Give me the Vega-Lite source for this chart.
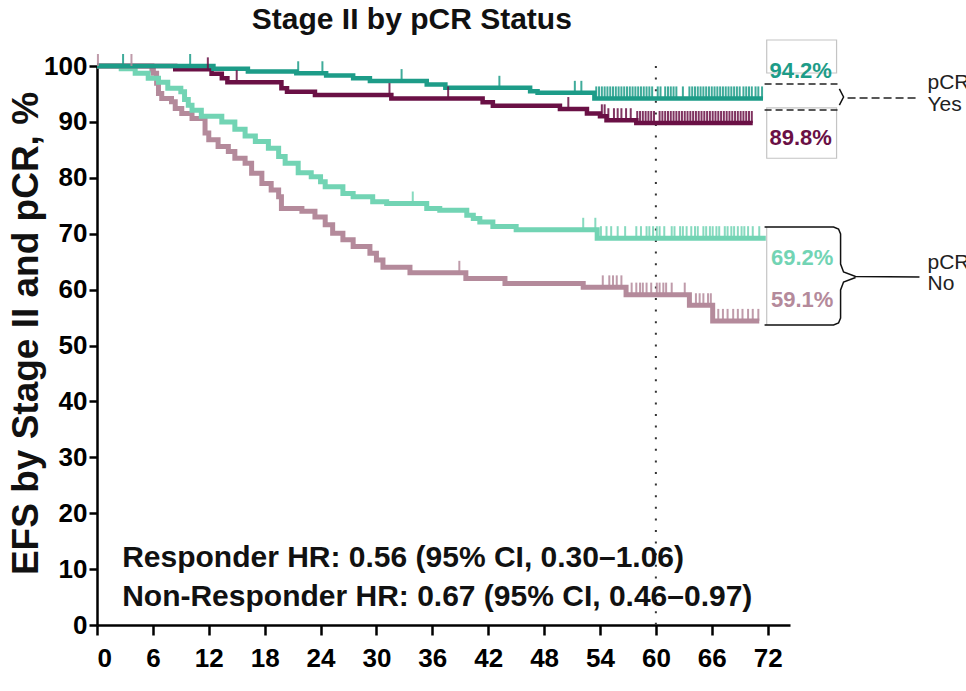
{
  "$schema": "https://vega.github.io/schema/vega-lite/v6.json",
  "width": 693,
  "height": 559,
  "autosize": {"type": "none"},
  "padding": {"left": 97, "top": 66, "right": 176, "bottom": 66},
  "background": "white",
  "datasets": {
    "curves": [
      {"series": "pCR Yes, arm A", "month": 0, "efs": 100},
      {"series": "pCR Yes, arm A", "month": 12.5, "efs": 99.5},
      {"series": "pCR Yes, arm A", "month": 16.2, "efs": 99.0},
      {"series": "pCR Yes, arm A", "month": 21.4, "efs": 98.7},
      {"series": "pCR Yes, arm A", "month": 24.6, "efs": 98.3},
      {"series": "pCR Yes, arm A", "month": 27.5, "efs": 97.8},
      {"series": "pCR Yes, arm A", "month": 29.3, "efs": 97.3},
      {"series": "pCR Yes, arm A", "month": 35.4, "efs": 96.7},
      {"series": "pCR Yes, arm A", "month": 37.4, "efs": 96.1},
      {"series": "pCR Yes, arm A", "month": 46.5, "efs": 95.5},
      {"series": "pCR Yes, arm A", "month": 47.3, "efs": 95.2},
      {"series": "pCR Yes, arm A", "month": 53.4, "efs": 94.2},
      {"series": "pCR Yes, arm A", "month": 71.5, "efs": 94.2},

      {"series": "pCR Yes, arm B", "month": 0, "efs": 100},
      {"series": "pCR Yes, arm B", "month": 8.4, "efs": 99.4},
      {"series": "pCR Yes, arm B", "month": 12.3, "efs": 98.6},
      {"series": "pCR Yes, arm B", "month": 13.4, "efs": 97.8},
      {"series": "pCR Yes, arm B", "month": 14.0, "efs": 97.1},
      {"series": "pCR Yes, arm B", "month": 19.8, "efs": 96.0},
      {"series": "pCR Yes, arm B", "month": 20.4, "efs": 95.4},
      {"series": "pCR Yes, arm B", "month": 23.4, "efs": 94.8},
      {"series": "pCR Yes, arm B", "month": 31.6, "efs": 94.2},
      {"series": "pCR Yes, arm B", "month": 41.4, "efs": 93.5},
      {"series": "pCR Yes, arm B", "month": 42.5, "efs": 92.9},
      {"series": "pCR Yes, arm B", "month": 49.7, "efs": 92.3},
      {"series": "pCR Yes, arm B", "month": 52.6, "efs": 91.5},
      {"series": "pCR Yes, arm B", "month": 54.0, "efs": 91.0},
      {"series": "pCR Yes, arm B", "month": 54.7, "efs": 90.3},
      {"series": "pCR Yes, arm B", "month": 57.9, "efs": 89.8},
      {"series": "pCR Yes, arm B", "month": 70.4, "efs": 89.8},

      {"series": "pCR No, arm A", "month": 0, "efs": 100},
      {"series": "pCR No, arm A", "month": 2.6, "efs": 99.5},
      {"series": "pCR No, arm A", "month": 4.1, "efs": 98.7},
      {"series": "pCR No, arm A", "month": 5.5, "efs": 97.8},
      {"series": "pCR No, arm A", "month": 6.6, "efs": 97.1},
      {"series": "pCR No, arm A", "month": 7.6, "efs": 96.0},
      {"series": "pCR No, arm A", "month": 9.0, "efs": 95.4},
      {"series": "pCR No, arm A", "month": 9.4, "efs": 94.0},
      {"series": "pCR No, arm A", "month": 9.8, "efs": 93.0},
      {"series": "pCR No, arm A", "month": 10.2, "efs": 92.1},
      {"series": "pCR No, arm A", "month": 11.2, "efs": 91.0},
      {"series": "pCR No, arm A", "month": 13.4, "efs": 90.0},
      {"series": "pCR No, arm A", "month": 14.8, "efs": 88.7},
      {"series": "pCR No, arm A", "month": 15.9, "efs": 87.5},
      {"series": "pCR No, arm A", "month": 17.0, "efs": 86.5},
      {"series": "pCR No, arm A", "month": 18.4, "efs": 85.3},
      {"series": "pCR No, arm A", "month": 19.5, "efs": 83.8},
      {"series": "pCR No, arm A", "month": 20.2, "efs": 82.6},
      {"series": "pCR No, arm A", "month": 21.6, "efs": 80.9},
      {"series": "pCR No, arm A", "month": 23.0, "efs": 80.2},
      {"series": "pCR No, arm A", "month": 24.0, "efs": 79.3},
      {"series": "pCR No, arm A", "month": 24.5, "efs": 78.4},
      {"series": "pCR No, arm A", "month": 26.4, "efs": 77.2},
      {"series": "pCR No, arm A", "month": 27.5, "efs": 76.6},
      {"series": "pCR No, arm A", "month": 29.6, "efs": 75.7},
      {"series": "pCR No, arm A", "month": 31.1, "efs": 75.4},
      {"series": "pCR No, arm A", "month": 35.4, "efs": 74.5},
      {"series": "pCR No, arm A", "month": 36.8, "efs": 74.2},
      {"series": "pCR No, arm A", "month": 39.7, "efs": 73.3},
      {"series": "pCR No, arm A", "month": 40.4, "efs": 72.7},
      {"series": "pCR No, arm A", "month": 41.1, "efs": 72.1},
      {"series": "pCR No, arm A", "month": 42.5, "efs": 71.3},
      {"series": "pCR No, arm A", "month": 45.0, "efs": 70.7},
      {"series": "pCR No, arm A", "month": 53.7, "efs": 69.2},
      {"series": "pCR No, arm A", "month": 71.8, "efs": 69.2},

      {"series": "pCR No, arm B", "month": 0, "efs": 100},
      {"series": "pCR No, arm B", "month": 5.9, "efs": 99.3},
      {"series": "pCR No, arm B", "month": 6.05, "efs": 98.7},
      {"series": "pCR No, arm B", "month": 6.4, "efs": 96.9},
      {"series": "pCR No, arm B", "month": 6.6, "efs": 95.1},
      {"series": "pCR No, arm B", "month": 6.95, "efs": 94.2},
      {"series": "pCR No, arm B", "month": 8.0, "efs": 93.6},
      {"series": "pCR No, arm B", "month": 8.4, "efs": 92.4},
      {"series": "pCR No, arm B", "month": 9.1, "efs": 91.5},
      {"series": "pCR No, arm B", "month": 10.2, "efs": 90.6},
      {"series": "pCR No, arm B", "month": 11.6, "efs": 88.0},
      {"series": "pCR No, arm B", "month": 12.0, "efs": 86.8},
      {"series": "pCR No, arm B", "month": 13.0, "efs": 85.6},
      {"series": "pCR No, arm B", "month": 14.1, "efs": 84.7},
      {"series": "pCR No, arm B", "month": 14.8, "efs": 83.5},
      {"series": "pCR No, arm B", "month": 15.9, "efs": 82.6},
      {"series": "pCR No, arm B", "month": 16.6, "efs": 80.8},
      {"series": "pCR No, arm B", "month": 17.7, "efs": 79.0},
      {"series": "pCR No, arm B", "month": 18.7, "efs": 77.8},
      {"series": "pCR No, arm B", "month": 19.5, "efs": 76.6},
      {"series": "pCR No, arm B", "month": 19.8, "efs": 74.5},
      {"series": "pCR No, arm B", "month": 22.0, "efs": 74.0},
      {"series": "pCR No, arm B", "month": 23.4, "efs": 73.0},
      {"series": "pCR No, arm B", "month": 24.5, "efs": 71.6},
      {"series": "pCR No, arm B", "month": 25.3, "efs": 70.1},
      {"series": "pCR No, arm B", "month": 26.4, "efs": 68.9},
      {"series": "pCR No, arm B", "month": 27.5, "efs": 67.7},
      {"series": "pCR No, arm B", "month": 29.3, "efs": 66.5},
      {"series": "pCR No, arm B", "month": 30.0, "efs": 65.3},
      {"series": "pCR No, arm B", "month": 30.7, "efs": 64.0},
      {"series": "pCR No, arm B", "month": 33.6, "efs": 63.0},
      {"series": "pCR No, arm B", "month": 39.6, "efs": 62.0},
      {"series": "pCR No, arm B", "month": 43.8, "efs": 61.1},
      {"series": "pCR No, arm B", "month": 52.2, "efs": 60.4},
      {"series": "pCR No, arm B", "month": 56.8, "efs": 59.1},
      {"series": "pCR No, arm B", "month": 63.6, "efs": 57.2},
      {"series": "pCR No, arm B", "month": 66.1, "efs": 54.4},
      {"series": "pCR No, arm B", "month": 71.1, "efs": 54.4}
    ],
    "censored": [
      {"series": "pCR Yes, arm A", "month": 2.8, "efs": 100},
      {"series": "pCR Yes, arm A", "month": 10.0, "efs": 100},
      {"series": "pCR Yes, arm A", "month": 21.6, "efs": 98.7},
      {"series": "pCR Yes, arm A", "month": 24.2, "efs": 98.7},
      {"series": "pCR Yes, arm A", "month": 32.7, "efs": 97.3},
      {"series": "pCR Yes, arm A", "month": 43.2, "efs": 96.1},
      {"series": "pCR Yes, arm A", "month": 51.3, "efs": 95.2},
      {"series": "pCR Yes, arm A", "month": 52.0, "efs": 95.2},
      {"series": "pCR Yes, arm A", "month": 53.6, "efs": 94.2},
      {"series": "pCR Yes, arm A", "month": 53.9, "efs": 94.2},
      {"series": "pCR Yes, arm A", "month": 54.2, "efs": 94.2},
      {"series": "pCR Yes, arm A", "month": 54.5, "efs": 94.2},
      {"series": "pCR Yes, arm A", "month": 54.8, "efs": 94.2},
      {"series": "pCR Yes, arm A", "month": 55.1, "efs": 94.2},
      {"series": "pCR Yes, arm A", "month": 55.4, "efs": 94.2},
      {"series": "pCR Yes, arm A", "month": 55.7, "efs": 94.2},
      {"series": "pCR Yes, arm A", "month": 56.0, "efs": 94.2},
      {"series": "pCR Yes, arm A", "month": 56.3, "efs": 94.2},
      {"series": "pCR Yes, arm A", "month": 56.6, "efs": 94.2},
      {"series": "pCR Yes, arm A", "month": 56.9, "efs": 94.2},
      {"series": "pCR Yes, arm A", "month": 57.2, "efs": 94.2},
      {"series": "pCR Yes, arm A", "month": 57.5, "efs": 94.2},
      {"series": "pCR Yes, arm A", "month": 57.8, "efs": 94.2},
      {"series": "pCR Yes, arm A", "month": 58.1, "efs": 94.2},
      {"series": "pCR Yes, arm A", "month": 58.4, "efs": 94.2},
      {"series": "pCR Yes, arm A", "month": 58.7, "efs": 94.2},
      {"series": "pCR Yes, arm A", "month": 59.0, "efs": 94.2},
      {"series": "pCR Yes, arm A", "month": 59.3, "efs": 94.2},
      {"series": "pCR Yes, arm A", "month": 59.6, "efs": 94.2},
      {"series": "pCR Yes, arm A", "month": 60.2, "efs": 94.2},
      {"series": "pCR Yes, arm A", "month": 60.5, "efs": 94.2},
      {"series": "pCR Yes, arm A", "month": 61.0, "efs": 94.2},
      {"series": "pCR Yes, arm A", "month": 61.3, "efs": 94.2},
      {"series": "pCR Yes, arm A", "month": 61.6, "efs": 94.2},
      {"series": "pCR Yes, arm A", "month": 61.9, "efs": 94.2},
      {"series": "pCR Yes, arm A", "month": 62.2, "efs": 94.2},
      {"series": "pCR Yes, arm A", "month": 62.9, "efs": 94.2},
      {"series": "pCR Yes, arm A", "month": 63.6, "efs": 94.2},
      {"series": "pCR Yes, arm A", "month": 63.9, "efs": 94.2},
      {"series": "pCR Yes, arm A", "month": 64.2, "efs": 94.2},
      {"series": "pCR Yes, arm A", "month": 64.5, "efs": 94.2},
      {"series": "pCR Yes, arm A", "month": 64.8, "efs": 94.2},
      {"series": "pCR Yes, arm A", "month": 65.1, "efs": 94.2},
      {"series": "pCR Yes, arm A", "month": 65.4, "efs": 94.2},
      {"series": "pCR Yes, arm A", "month": 65.7, "efs": 94.2},
      {"series": "pCR Yes, arm A", "month": 66.0, "efs": 94.2},
      {"series": "pCR Yes, arm A", "month": 66.3, "efs": 94.2},
      {"series": "pCR Yes, arm A", "month": 66.6, "efs": 94.2},
      {"series": "pCR Yes, arm A", "month": 66.9, "efs": 94.2},
      {"series": "pCR Yes, arm A", "month": 67.2, "efs": 94.2},
      {"series": "pCR Yes, arm A", "month": 67.5, "efs": 94.2},
      {"series": "pCR Yes, arm A", "month": 67.8, "efs": 94.2},
      {"series": "pCR Yes, arm A", "month": 68.1, "efs": 94.2},
      {"series": "pCR Yes, arm A", "month": 68.4, "efs": 94.2},
      {"series": "pCR Yes, arm A", "month": 68.7, "efs": 94.2},
      {"series": "pCR Yes, arm A", "month": 69.0, "efs": 94.2},
      {"series": "pCR Yes, arm A", "month": 69.4, "efs": 94.2},
      {"series": "pCR Yes, arm A", "month": 69.7, "efs": 94.2},
      {"series": "pCR Yes, arm A", "month": 70.0, "efs": 94.2},
      {"series": "pCR Yes, arm A", "month": 70.3, "efs": 94.2},
      {"series": "pCR Yes, arm A", "month": 70.7, "efs": 94.2},
      {"series": "pCR Yes, arm A", "month": 71.0, "efs": 94.2},
      {"series": "pCR Yes, arm A", "month": 71.4, "efs": 94.2},

      {"series": "pCR Yes, arm B", "month": 11.9, "efs": 99.4},
      {"series": "pCR Yes, arm B", "month": 15.0, "efs": 97.1},
      {"series": "pCR Yes, arm B", "month": 31.4, "efs": 94.8},
      {"series": "pCR Yes, arm B", "month": 37.7, "efs": 94.2},
      {"series": "pCR Yes, arm B", "month": 50.6, "efs": 92.3},
      {"series": "pCR Yes, arm B", "month": 54.2, "efs": 91.0},
      {"series": "pCR Yes, arm B", "month": 54.5, "efs": 91.0},
      {"series": "pCR Yes, arm B", "month": 54.9, "efs": 90.3},
      {"series": "pCR Yes, arm B", "month": 55.5, "efs": 90.3},
      {"series": "pCR Yes, arm B", "month": 55.9, "efs": 90.3},
      {"series": "pCR Yes, arm B", "month": 56.3, "efs": 90.3},
      {"series": "pCR Yes, arm B", "month": 56.8, "efs": 90.3},
      {"series": "pCR Yes, arm B", "month": 57.3, "efs": 90.3},
      {"series": "pCR Yes, arm B", "month": 58.0, "efs": 89.8},
      {"series": "pCR Yes, arm B", "month": 58.3, "efs": 89.8},
      {"series": "pCR Yes, arm B", "month": 58.6, "efs": 89.8},
      {"series": "pCR Yes, arm B", "month": 58.9, "efs": 89.8},
      {"series": "pCR Yes, arm B", "month": 59.2, "efs": 89.8},
      {"series": "pCR Yes, arm B", "month": 59.5, "efs": 89.8},
      {"series": "pCR Yes, arm B", "month": 59.8, "efs": 89.8},
      {"series": "pCR Yes, arm B", "month": 60.4, "efs": 89.8},
      {"series": "pCR Yes, arm B", "month": 60.7, "efs": 89.8},
      {"series": "pCR Yes, arm B", "month": 61.0, "efs": 89.8},
      {"series": "pCR Yes, arm B", "month": 61.3, "efs": 89.8},
      {"series": "pCR Yes, arm B", "month": 61.6, "efs": 89.8},
      {"series": "pCR Yes, arm B", "month": 61.9, "efs": 89.8},
      {"series": "pCR Yes, arm B", "month": 62.2, "efs": 89.8},
      {"series": "pCR Yes, arm B", "month": 62.5, "efs": 89.8},
      {"series": "pCR Yes, arm B", "month": 62.8, "efs": 89.8},
      {"series": "pCR Yes, arm B", "month": 63.1, "efs": 89.8},
      {"series": "pCR Yes, arm B", "month": 63.4, "efs": 89.8},
      {"series": "pCR Yes, arm B", "month": 63.7, "efs": 89.8},
      {"series": "pCR Yes, arm B", "month": 64.0, "efs": 89.8},
      {"series": "pCR Yes, arm B", "month": 64.3, "efs": 89.8},
      {"series": "pCR Yes, arm B", "month": 64.6, "efs": 89.8},
      {"series": "pCR Yes, arm B", "month": 64.9, "efs": 89.8},
      {"series": "pCR Yes, arm B", "month": 65.2, "efs": 89.8},
      {"series": "pCR Yes, arm B", "month": 65.5, "efs": 89.8},
      {"series": "pCR Yes, arm B", "month": 65.8, "efs": 89.8},
      {"series": "pCR Yes, arm B", "month": 66.1, "efs": 89.8},
      {"series": "pCR Yes, arm B", "month": 66.4, "efs": 89.8},
      {"series": "pCR Yes, arm B", "month": 66.7, "efs": 89.8},
      {"series": "pCR Yes, arm B", "month": 67.0, "efs": 89.8},
      {"series": "pCR Yes, arm B", "month": 67.3, "efs": 89.8},
      {"series": "pCR Yes, arm B", "month": 67.6, "efs": 89.8},
      {"series": "pCR Yes, arm B", "month": 67.9, "efs": 89.8},
      {"series": "pCR Yes, arm B", "month": 68.2, "efs": 89.8},
      {"series": "pCR Yes, arm B", "month": 68.5, "efs": 89.8},
      {"series": "pCR Yes, arm B", "month": 68.8, "efs": 89.8},
      {"series": "pCR Yes, arm B", "month": 69.1, "efs": 89.8},
      {"series": "pCR Yes, arm B", "month": 69.4, "efs": 89.8},
      {"series": "pCR Yes, arm B", "month": 69.7, "efs": 89.8},
      {"series": "pCR Yes, arm B", "month": 70.0, "efs": 89.8},
      {"series": "pCR Yes, arm B", "month": 70.3, "efs": 89.8},

      {"series": "pCR No, arm A", "month": 33.9, "efs": 75.4},
      {"series": "pCR No, arm A", "month": 52.2, "efs": 70.7},
      {"series": "pCR No, arm A", "month": 53.5, "efs": 70.7},
      {"series": "pCR No, arm A", "month": 54.1, "efs": 69.2},
      {"series": "pCR No, arm A", "month": 54.7, "efs": 69.2},
      {"series": "pCR No, arm A", "month": 55.2, "efs": 69.2},
      {"series": "pCR No, arm A", "month": 55.9, "efs": 69.2},
      {"series": "pCR No, arm A", "month": 56.7, "efs": 69.2},
      {"series": "pCR No, arm A", "month": 57.9, "efs": 69.2},
      {"series": "pCR No, arm A", "month": 58.4, "efs": 69.2},
      {"series": "pCR No, arm A", "month": 59.0, "efs": 69.2},
      {"series": "pCR No, arm A", "month": 59.3, "efs": 69.2},
      {"series": "pCR No, arm A", "month": 59.7, "efs": 69.2},
      {"series": "pCR No, arm A", "month": 60.1, "efs": 69.2},
      {"series": "pCR No, arm A", "month": 60.4, "efs": 69.2},
      {"series": "pCR No, arm A", "month": 60.9, "efs": 69.2},
      {"series": "pCR No, arm A", "month": 61.7, "efs": 69.2},
      {"series": "pCR No, arm A", "month": 62.0, "efs": 69.2},
      {"series": "pCR No, arm A", "month": 62.6, "efs": 69.2},
      {"series": "pCR No, arm A", "month": 62.9, "efs": 69.2},
      {"series": "pCR No, arm A", "month": 63.3, "efs": 69.2},
      {"series": "pCR No, arm A", "month": 63.8, "efs": 69.2},
      {"series": "pCR No, arm A", "month": 64.2, "efs": 69.2},
      {"series": "pCR No, arm A", "month": 64.5, "efs": 69.2},
      {"series": "pCR No, arm A", "month": 65.1, "efs": 69.2},
      {"series": "pCR No, arm A", "month": 65.4, "efs": 69.2},
      {"series": "pCR No, arm A", "month": 65.8, "efs": 69.2},
      {"series": "pCR No, arm A", "month": 66.1, "efs": 69.2},
      {"series": "pCR No, arm A", "month": 66.5, "efs": 69.2},
      {"series": "pCR No, arm A", "month": 66.8, "efs": 69.2},
      {"series": "pCR No, arm A", "month": 67.4, "efs": 69.2},
      {"series": "pCR No, arm A", "month": 67.7, "efs": 69.2},
      {"series": "pCR No, arm A", "month": 68.1, "efs": 69.2},
      {"series": "pCR No, arm A", "month": 68.4, "efs": 69.2},
      {"series": "pCR No, arm A", "month": 68.8, "efs": 69.2},
      {"series": "pCR No, arm A", "month": 69.2, "efs": 69.2},
      {"series": "pCR No, arm A", "month": 69.5, "efs": 69.2},
      {"series": "pCR No, arm A", "month": 69.9, "efs": 69.2},
      {"series": "pCR No, arm A", "month": 70.4, "efs": 69.2},
      {"series": "pCR No, arm A", "month": 71.1, "efs": 69.2},

      {"series": "pCR No, arm B", "month": 0.1, "efs": 100},
      {"series": "pCR No, arm B", "month": 3.7, "efs": 100},
      {"series": "pCR No, arm B", "month": 38.9, "efs": 63.0},
      {"series": "pCR No, arm B", "month": 54.3, "efs": 60.4},
      {"series": "pCR No, arm B", "month": 55.0, "efs": 60.4},
      {"series": "pCR No, arm B", "month": 55.4, "efs": 60.4},
      {"series": "pCR No, arm B", "month": 55.8, "efs": 60.4},
      {"series": "pCR No, arm B", "month": 56.3, "efs": 60.4},
      {"series": "pCR No, arm B", "month": 57.4, "efs": 59.1},
      {"series": "pCR No, arm B", "month": 57.9, "efs": 59.1},
      {"series": "pCR No, arm B", "month": 58.3, "efs": 59.1},
      {"series": "pCR No, arm B", "month": 58.6, "efs": 59.1},
      {"series": "pCR No, arm B", "month": 59.0, "efs": 59.1},
      {"series": "pCR No, arm B", "month": 59.5, "efs": 59.1},
      {"series": "pCR No, arm B", "month": 60.1, "efs": 59.1},
      {"series": "pCR No, arm B", "month": 60.4, "efs": 59.1},
      {"series": "pCR No, arm B", "month": 60.8, "efs": 59.1},
      {"series": "pCR No, arm B", "month": 61.1, "efs": 59.1},
      {"series": "pCR No, arm B", "month": 61.7, "efs": 59.1},
      {"series": "pCR No, arm B", "month": 63.1, "efs": 59.1},
      {"series": "pCR No, arm B", "month": 64.3, "efs": 57.2},
      {"series": "pCR No, arm B", "month": 64.7, "efs": 57.2},
      {"series": "pCR No, arm B", "month": 65.1, "efs": 57.2},
      {"series": "pCR No, arm B", "month": 65.6, "efs": 57.2},
      {"series": "pCR No, arm B", "month": 65.9, "efs": 57.2},
      {"series": "pCR No, arm B", "month": 66.7, "efs": 54.4},
      {"series": "pCR No, arm B", "month": 67.2, "efs": 54.4},
      {"series": "pCR No, arm B", "month": 67.7, "efs": 54.4},
      {"series": "pCR No, arm B", "month": 68.3, "efs": 54.4},
      {"series": "pCR No, arm B", "month": 68.8, "efs": 54.4},
      {"series": "pCR No, arm B", "month": 69.3, "efs": 54.4},
      {"series": "pCR No, arm B", "month": 69.9, "efs": 54.4},
      {"series": "pCR No, arm B", "month": 70.4, "efs": 54.4},
      {"series": "pCR No, arm B", "month": 71.0, "efs": 54.4}
    ],
    "at60": [
      {"series": "pCR Yes, arm A", "month": 60, "efs": 94.2},
      {"series": "pCR Yes, arm B", "month": 60, "efs": 89.8},
      {"series": "pCR No, arm A", "month": 60, "efs": 69.2},
      {"series": "pCR No, arm B", "month": 60, "efs": 59.1}
    ],
    "brackets": [
      {"part": "no top", "i": 0, "month": 71.67, "efs": 71.2},
      {"part": "no top", "i": 1, "month": 79.08, "efs": 71.2},
      {"part": "no top", "i": 2, "month": 79.61, "efs": 70.84},
      {"part": "no top", "i": 3, "month": 79.83, "efs": 69.95},
      {"part": "no top", "i": 4, "month": 79.83, "efs": 64.58},
      {"part": "no top", "i": 5, "month": 80.15, "efs": 63.15},
      {"part": "no top", "i": 6, "month": 81.44, "efs": 62.34},
      {"part": "no top", "i": 7, "month": 88.3, "efs": 62.25},
      {"part": "no bottom", "i": 0, "month": 81.44, "efs": 62.16},
      {"part": "no bottom", "i": 1, "month": 80.15, "efs": 61.36},
      {"part": "no bottom", "i": 2, "month": 79.83, "efs": 59.93},
      {"part": "no bottom", "i": 3, "month": 79.83, "efs": 54.92},
      {"part": "no bottom", "i": 4, "month": 79.61, "efs": 54.03},
      {"part": "no bottom", "i": 5, "month": 79.08, "efs": 53.67},
      {"part": "no bottom", "i": 6, "month": 71.67, "efs": 53.67},
      {"part": "yes", "i": 0, "month": 79.7, "efs": 95.9},
      {"part": "yes", "i": 1, "month": 80.15, "efs": 94.45},
      {"part": "yes", "i": 2, "month": 79.7, "efs": 93.0}
    ]
  },
  "layer": [
    {
      "data": {"values": [{}]},
      "mark": {"type": "rule", "color": "#333333", "strokeWidth": 2, "strokeDash": [2, 9.6]},
      "encoding": {
        "x": {
          "datum": 60,
          "type": "quantitative",
          "scale": {"domain": [0, 74.4], "nice": false, "zero": false},
          "axis": {
            "values": [0, 6, 12, 18, 24, 30, 36, 42, 48, 54, 60, 66, 72],
            "title": null,
            "domainWidth": 2.5,
            "tickWidth": 2.5,
            "tickSize": 10,
            "labelPadding": 10
          }
        }
      }
    },
    {
      "data": {"name": "curves"},
      "transform": [{"filter": "datum.series === 'pCR No, arm B'"}],
      "mark": {"type": "line", "interpolate": "step-after", "strokeWidth": 5},
      "encoding": {
        "x": {"field": "month", "type": "quantitative"},
        "y": {
          "field": "efs",
          "type": "quantitative",
          "scale": {"domain": [0, 100], "nice": false, "zero": true},
          "axis": {
            "values": [0, 10, 20, 30, 40, 50, 60, 70, 80, 90, 100],
            "title": "EFS by Stage II and pCR, %",
            "titleFont": "Liberation Sans",
            "titleFontSize": 37,
            "titleFontWeight": "bold",
            "titleColor": "#111111",
            "titleAngle": 270,
            "titleAlign": "center",
            "titleBaseline": "middle",
            "titleX": -71,
            "titleY": 267,
            "domainWidth": 2.5,
            "tickWidth": 2.5,
            "tickSize": 8,
            "labelPadding": 2
          }
        },
        "color": {
          "field": "series",
          "type": "nominal",
          "legend": null,
          "scale": {
            "domain": ["pCR Yes, arm A", "pCR Yes, arm B", "pCR No, arm A", "pCR No, arm B"],
            "range": ["#1d9c88", "#6a1045", "#72d4b4", "#b48a9b"]
          }
        }
      }
    },
    {
      "data": {"name": "curves"},
      "transform": [{"filter": "datum.series === 'pCR No, arm A'"}],
      "mark": {"type": "line", "interpolate": "step-after", "strokeWidth": 5},
      "encoding": {
        "x": {"field": "month", "type": "quantitative"},
        "y": {"field": "efs", "type": "quantitative"},
        "color": {"field": "series", "type": "nominal", "legend": null}
      }
    },
    {
      "data": {"name": "curves"},
      "transform": [{"filter": "datum.series === 'pCR Yes, arm B'"}],
      "mark": {"type": "line", "interpolate": "step-after", "strokeWidth": 4.5},
      "encoding": {
        "x": {"field": "month", "type": "quantitative"},
        "y": {"field": "efs", "type": "quantitative"},
        "color": {"field": "series", "type": "nominal", "legend": null}
      }
    },
    {
      "data": {"name": "curves"},
      "transform": [{"filter": "datum.series === 'pCR Yes, arm A'"}],
      "mark": {"type": "line", "interpolate": "step-after", "strokeWidth": 4.5},
      "encoding": {
        "x": {"field": "month", "type": "quantitative"},
        "y": {"field": "efs", "type": "quantitative"},
        "color": {"field": "series", "type": "nominal", "legend": null}
      }
    },
    {
      "data": {"name": "censored"},
      "mark": {"type": "tick", "orient": "vertical", "size": 12, "thickness": 2, "yOffset": -6, "opacity": 0.85},
      "encoding": {
        "x": {"field": "month", "type": "quantitative"},
        "y": {"field": "efs", "type": "quantitative"},
        "color": {"field": "series", "type": "nominal", "legend": null}
      }
    },
    {
      "data": {"values": [{}]},
      "mark": {"type": "rect", "fill": null, "stroke": "#c4c4c4", "strokeWidth": 1.2},
      "encoding": {
        "x": {"datum": 71.9, "type": "quantitative"},
        "x2": {"datum": 79.4},
        "y": {"datum": 98.75, "type": "quantitative"},
        "y2": {"datum": 104.65}
      }
    },
    {
      "data": {"values": [{}]},
      "mark": {"type": "rect", "fill": null, "stroke": "#c4c4c4", "strokeWidth": 1.2},
      "encoding": {
        "x": {"datum": 71.9, "type": "quantitative"},
        "x2": {"datum": 79.4},
        "y": {"datum": 83.5, "type": "quantitative"},
        "y2": {"datum": 92.5}
      }
    },
    {
      "data": {"values": [{}]},
      "mark": {"type": "rule", "color": "#c4c4c4", "strokeWidth": 1.2},
      "encoding": {
        "x": {"datum": 71.9, "type": "quantitative"},
        "y": {"datum": 71.2, "type": "quantitative"},
        "y2": {"datum": 53.67}
      }
    },
    {
      "data": {"values": [{}]},
      "mark": {"type": "rule", "color": "#222222", "strokeWidth": 1.5, "strokeDash": [7, 4]},
      "encoding": {
        "x": {"datum": 71.67, "type": "quantitative"},
        "x2": {"datum": 79.5},
        "y": {"datum": 96.78, "type": "quantitative"}
      }
    },
    {
      "data": {"values": [{}]},
      "mark": {"type": "rule", "color": "#222222", "strokeWidth": 1.5, "strokeDash": [7, 4]},
      "encoding": {
        "x": {"datum": 71.67, "type": "quantitative"},
        "x2": {"datum": 79.5},
        "y": {"datum": 92.13, "type": "quantitative"}
      }
    },
    {
      "data": {"values": [{}]},
      "mark": {"type": "rule", "color": "#222222", "strokeWidth": 1.5, "strokeDash": [8, 4]},
      "encoding": {
        "x": {"datum": 80.58, "type": "quantitative"},
        "x2": {"datum": 88.09},
        "y": {"datum": 94.28, "type": "quantitative"}
      }
    },
    {
      "data": {"name": "brackets"},
      "mark": {"type": "line", "color": "#111111", "strokeWidth": 1.5},
      "encoding": {
        "x": {"field": "month", "type": "quantitative"},
        "y": {"field": "efs", "type": "quantitative"},
        "detail": {"field": "part"},
        "order": {"field": "i"}
      }
    },
    {
      "data": {"name": "at60"},
      "transform": [
        {"filter": "datum.series === 'pCR Yes, arm A'"},
        {"calculate": "format(datum.efs, '.1f') + '%'", "as": "label"}
      ],
      "mark": {"type": "text", "align": "center", "baseline": "alphabetic", "dy": -20.4, "font": "Liberation Sans", "fontSize": 22, "fontWeight": "bold"},
      "encoding": {
        "x": {"datum": 75.55, "type": "quantitative"},
        "y": {"field": "efs", "type": "quantitative"},
        "text": {"field": "label"},
        "color": {"field": "series", "type": "nominal", "legend": null}
      }
    },
    {
      "data": {"name": "at60"},
      "transform": [
        {"filter": "datum.series === 'pCR Yes, arm B'"},
        {"calculate": "format(datum.efs, '.1f') + '%'", "as": "label"}
      ],
      "mark": {"type": "text", "align": "center", "baseline": "alphabetic", "dy": 22, "font": "Liberation Sans", "fontSize": 22, "fontWeight": "bold"},
      "encoding": {
        "x": {"datum": 75.55, "type": "quantitative"},
        "y": {"field": "efs", "type": "quantitative"},
        "text": {"field": "label"},
        "color": {"field": "series", "type": "nominal", "legend": null}
      }
    },
    {
      "data": {"name": "at60"},
      "transform": [
        {"filter": "datum.series === 'pCR No, arm A'"},
        {"calculate": "format(datum.efs, '.1f') + '%'", "as": "label"}
      ],
      "mark": {"type": "text", "align": "center", "baseline": "alphabetic", "dy": 27, "font": "Liberation Sans", "fontSize": 22, "fontWeight": "bold"},
      "encoding": {
        "x": {"datum": 75.7, "type": "quantitative"},
        "y": {"field": "efs", "type": "quantitative"},
        "text": {"field": "label"},
        "color": {"field": "series", "type": "nominal", "legend": null}
      }
    },
    {
      "data": {"name": "at60"},
      "transform": [
        {"filter": "datum.series === 'pCR No, arm B'"},
        {"calculate": "format(datum.efs, '.1f') + '%'", "as": "label"}
      ],
      "mark": {"type": "text", "align": "center", "baseline": "alphabetic", "dy": 12.4, "font": "Liberation Sans", "fontSize": 22, "fontWeight": "bold"},
      "encoding": {
        "x": {"datum": 75.7, "type": "quantitative"},
        "y": {"field": "efs", "type": "quantitative"},
        "text": {"field": "label"},
        "color": {"field": "series", "type": "nominal", "legend": null}
      }
    },
    {
      "data": {"values": [{}]},
      "mark": {"type": "text", "align": "left", "baseline": "alphabetic", "font": "Liberation Sans", "fontSize": 21, "lineHeight": 22, "color": "#222222"},
      "encoding": {
        "x": {"datum": 89.16, "type": "quantitative"},
        "y": {"datum": 95.9, "type": "quantitative"},
        "text": {"value": ["pCR", "Yes"]}
      }
    },
    {
      "data": {"values": [{}]},
      "mark": {"type": "text", "align": "left", "baseline": "alphabetic", "font": "Liberation Sans", "fontSize": 21, "lineHeight": 21, "color": "#222222"},
      "encoding": {
        "x": {"datum": 89.16, "type": "quantitative"},
        "y": {"datum": 63.63, "type": "quantitative"},
        "text": {"value": ["pCR", "No"]}
      }
    },
    {
      "data": {"values": [{}]},
      "mark": {"type": "text", "align": "left", "baseline": "alphabetic", "font": "Liberation Sans", "fontSize": 30, "fontWeight": "bold", "color": "#111111"},
      "encoding": {
        "x": {"datum": 2.7, "type": "quantitative"},
        "y": {"datum": 10.4, "type": "quantitative"},
        "text": {"value": "Responder HR: 0.56 (95% CI, 0.30–1.06)"}
      }
    },
    {
      "data": {"values": [{}]},
      "mark": {"type": "text", "align": "left", "baseline": "alphabetic", "font": "Liberation Sans", "fontSize": 30, "fontWeight": "bold", "color": "#111111"},
      "encoding": {
        "x": {"datum": 2.7, "type": "quantitative"},
        "y": {"datum": 3.4, "type": "quantitative"},
        "text": {"value": "Non-Responder HR: 0.67 (95% CI, 0.46–0.97)"}
      }
    },
    {
      "data": {"values": [{}]},
      "mark": {"type": "text", "align": "center", "baseline": "alphabetic", "font": "Liberation Sans", "fontSize": 30, "fontWeight": "bold", "color": "#111111"},
      "encoding": {
        "x": {"datum": 33.8, "type": "quantitative"},
        "y": {"datum": 106.6, "type": "quantitative"},
        "text": {"value": "Stage II by pCR Status"}
      }
    }
  ],
  "config": {
    "view": {"stroke": null},
    "axis": {
      "grid": false,
      "domainColor": "#000000",
      "tickColor": "#000000",
      "labelColor": "#000000",
      "labelFont": "Liberation Sans",
      "labelFontSize": 26,
      "labelFontWeight": "bold"
    }
  }
}
